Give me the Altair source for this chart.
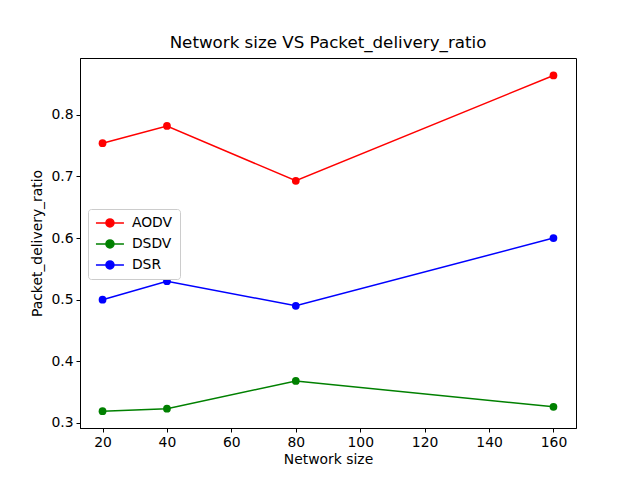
import altair as alt
import pandas as pd

network_size = [20, 40, 80, 160]
aodv = [0.754, 0.782, 0.693, 0.864]
dsdv = [0.319, 0.323, 0.368, 0.326]
dsr = [0.500, 0.530, 0.490, 0.600]
protocols = ["AODV", "DSDV", "DSR"]
colors = ["#ff0000", "#008000", "#0000ff"]

rows = []
for name, vals in zip(protocols, [aodv, dsdv, dsr]):
    for n, v in zip(network_size, vals):
        rows.append({"Network size": n, "Packet_delivery_ratio": v, "protocol": name})
df = pd.DataFrame(rows)

FONT = "DejaVu Sans"
FS = 13.9
sym = "M -2.8 0 L 2.8 0 M 0.8 0 A 0.8 0.8 0 1 1 -0.8 0 A 0.8 0.8 0 1 1 0.8 0 Z"

color = alt.Color(
    "protocol:N",
    scale=alt.Scale(domain=protocols, range=colors),
    legend=alt.Legend(
        title=None,
        orient="none",
        legendX=8,
        legendY=151,
        symbolType=sym,
        symbolSize=100,
        symbolStrokeWidth=1.5,
        symbolOffset=8,
        labelOffset=15,
        labelFont=FONT,
        labelFontSize=FS,
        labelColor="black",
        rowPadding=6,
        fillColor="white",
        strokeColor="#cccccc",
        cornerRadius=3,
        padding=7,
    ),
)

x = alt.X(
    "Network size:Q",
    scale=alt.Scale(domain=[13, 167], nice=False, zero=False),
    axis=alt.Axis(values=[20, 40, 60, 80, 100, 120, 140, 160], title="Network size"),
)
y = alt.Y(
    "Packet_delivery_ratio:Q",
    scale=alt.Scale(domain=[0.2917, 0.8923], nice=False, zero=False),
    axis=alt.Axis(values=[0.3, 0.4, 0.5, 0.6, 0.7, 0.8], format=".1f", title="Packet_delivery_ratio"),
)

base = alt.Chart(df).encode(x=x, y=y, color=color)
lines = base.mark_line(strokeWidth=1.5)
points = base.mark_point(filled=True, size=60, opacity=1, shape="circle")

chart = (
    alt.layer(lines, points)
    .properties(
        width=496,
        height=370,
        background="white",
        title=alt.TitleParams("Network size VS Packet_delivery_ratio", font=FONT, fontSize=16.7, fontWeight="normal", color="black", offset=6),
        autosize=alt.AutoSizeParams(type="none"),
        padding={"left": 72, "top": 50, "right": 56, "bottom": 45},
    )
    .configure_view(stroke="black", strokeWidth=1)
    .configure_axis(
        grid=False,
        domainColor="black",
        tickColor="black",
        tickSize=4,
        labelFont=FONT,
        labelFontSize=FS,
        labelColor="black",
        titleFont=FONT,
        titleFontSize=FS,
        titleFontWeight="normal",
        titleColor="black",
        labelPadding=3,
    )
    .configure_axisX(titlePadding=4)
    .configure_axisY(titlePadding=6)
)

chart.save("out.html", embed_options={"renderer": "svg", "actions": False})
